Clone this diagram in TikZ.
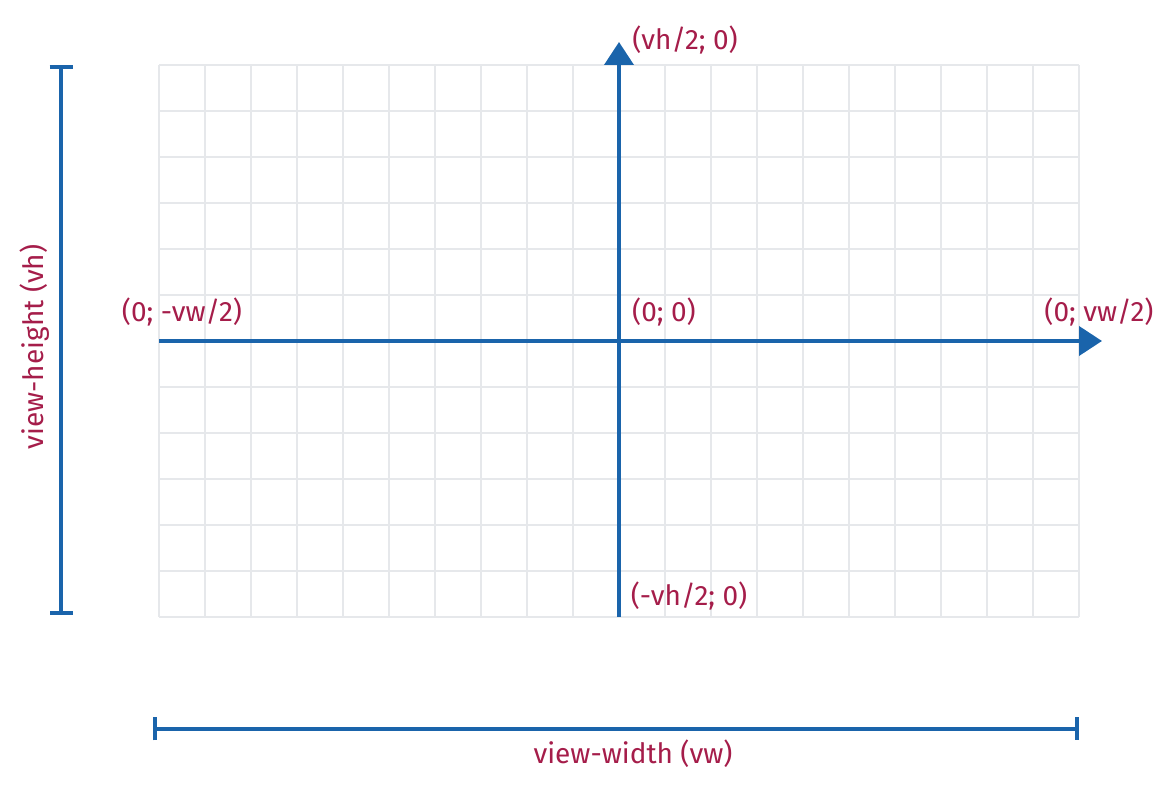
\documentclass[tikz,border=0pt]{standalone}
\usepackage{fontspec}
\setmainfont{Fira Sans}
\usetikzlibrary{arrows.meta}
\definecolor{axisblue}{HTML}{1A64AB}
\definecolor{labelred}{HTML}{A51D4A}
\definecolor{gridgray}{HTML}{E6E8EB}
\begin{document}
\begin{tikzpicture}[x=0.5pt,y=-0.5pt,
	gridline/.style={draw=gridgray,line width=1pt},
	axis/.style={draw=axisblue,line width=2pt,-{Triangle[width=14.5pt,length=11.5pt]}},
	dim/.style={draw=axisblue,line width=2pt,{Bar[width=11.5pt]}-{Bar[width=11.5pt]}},
	lbl/.style={text=labelred,font=\fontsize{14pt}{16pt}\selectfont,inner sep=0pt}]
	\useasboundingbox (0,0) rectangle (1174,796);
	\foreach \x in {159,205,...,1079}
		\draw[gridline] (\x,65) -- (\x,617);
	\foreach \y in {65,111,...,617}
		\draw[gridline] (159,\y) -- (1079,\y);
	\coordinate (O) at (619,341);
	\coordinate (xl) at (159,341);
	\coordinate (xr) at (1102,341);
	\coordinate (yb) at (619,617);
	\coordinate (yt) at (619,42);
	\draw[axis] (xl) -- (xr);
	\draw[axis] (yb) -- (yt);
	\coordinate (vt) at (61,65);
	\coordinate (vb) at (61,615);
	\coordinate (wl) at (153,729);
	\coordinate (wr) at (1079,729);
	\draw[dim] (vt) -- (vb);
	\draw[dim] (wl) -- (wr);
	\node[lbl] (ltop) at (685,40) {(vh/2; 0)};
	\node[lbl] (lbot) at (689,596) {(-vh/2; 0)};
	\node[lbl] (lleft) at (182,312) {(0; -vw/2)};
	\node[lbl] (lorig) at (664,312) {(0; 0)};
	\node[lbl] (lright) at (1099,312) {(0; vw/2)};
	\node[lbl,rotate=90] (lvh) at (35,347) {view-height (vh)};
	\node[lbl] (lvw) at (633,754) {view-width (vw)};
\end{tikzpicture}
\end{document}
